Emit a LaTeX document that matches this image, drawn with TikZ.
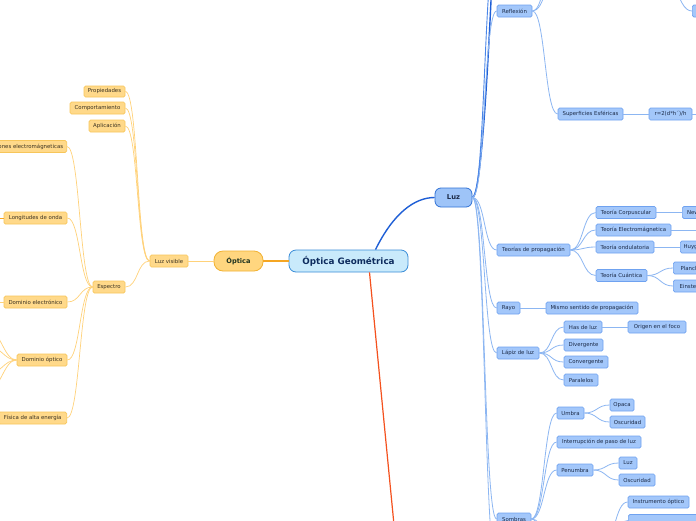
\documentclass[tikz,border=0pt]{standalone}
\usepackage{fontspec}
\setmainfont{DejaVu Sans}
\usetikzlibrary{calc}
\definecolor{ybfill}{HTML}{FFD98A}
\definecolor{ybdraw}{HTML}{F7C65A}
\definecolor{yline}{HTML}{FFD27A}
\definecolor{ytext}{HTML}{3B3222}
\definecolor{bbfill}{HTML}{A3C7FA}
\definecolor{bbdraw}{HTML}{6FA2F0}
\definecolor{bline}{HTML}{8CB6F2}
\definecolor{btext}{HTML}{1C2B48}
\definecolor{cfill}{HTML}{C9EAFB}
\definecolor{cdraw}{HTML}{3A8DD8}
\definecolor{ctext}{HTML}{0E2C5E}
\definecolor{ofill}{HTML}{FFD67F}
\definecolor{odraw}{HTML}{F2B232}
\definecolor{otext}{HTML}{1E3320}
\definecolor{oline}{HTML}{F5A623}
\definecolor{lfill}{HTML}{9EC4F8}
\definecolor{ldraw}{HTML}{3172D6}
\definecolor{mainblue}{HTML}{1F5FD6}
\definecolor{midblue}{HTML}{4A86E8}
\definecolor{redline}{HTML}{F4511E}
\tikzset{
  ynode/.style={draw=ybdraw, fill=ybfill, rounded corners=1.5pt, line width=0.7pt,
    minimum height=12pt, inner sep=0pt, font=\fontsize{5.4}{6}\selectfont, text=ytext},
  bnode/.style={draw=bbdraw, fill=bbfill, rounded corners=1.5pt, line width=0.7pt,
    minimum height=12pt, inner sep=0pt, font=\fontsize{5.4}{6}\selectfont, text=btext},
  yl/.style={draw=yline, line width=0.7pt},
  bl/.style={draw=bline, line width=0.8pt},
  ll/.style={draw=midblue, line width=0.9pt},
}
\newcommand\mmlink[3][bl]{\draw[#1] (#2) .. controls +(13,0) and +(-13,0) .. (#3);}
\newcommand\mmlinkl[3][yl]{\draw[#1] (#2) .. controls +(-13,0) and +(13,0) .. (#3);}
\begin{document}
\begin{tikzpicture}[x=1pt,y=-1pt]
\fill[white] (0,0) rectangle (696,520);
\useasboundingbox (0,0) rectangle (696,520);

% ---- main nodes
\node[draw=cdraw, fill=cfill, line width=0.8pt, rounded corners=7pt, minimum width=119pt, minimum height=22pt,
  inner sep=0pt, font=\bfseries\fontsize{8.8}{10}\selectfont, text=ctext] (central) at (348.5,261) {Óptica Geométrica};
\node[draw=odraw, fill=ofill, line width=0.8pt, rounded corners=9pt, minimum width=49pt, minimum height=20pt,
  inner sep=0pt, font=\bfseries\fontsize{6.6}{8}\selectfont, text=otext] (optica) at (238.5,261) {Óptica};
\node[draw=ldraw, fill=lfill, line width=0.8pt, rounded corners=6pt, minimum width=37pt, minimum height=19pt,
  inner sep=0pt, font=\bfseries\fontsize{6.8}{8}\selectfont, text=btext] (luz) at (453.5,197.5) {Luz};

% ---- left (yellow) nodes
\node[ynode, minimum width=38pt] (lvis) at (169,261) {Luz visible};
\node[ynode, minimum width=41pt, minimum height=11pt] (prop) at (104.5,91.5) {Propiedades};
\node[ynode, minimum width=55pt] (comp) at (97.5,108) {Comportamiento};
\node[ynode, minimum width=36pt] (apl) at (107,126) {Aplicación};
\node[ynode, minimum width=32pt] (esp) at (109,287) {Espectro};
\node[ynode, anchor=east, minimum width=60pt, inner xsep=3.5pt] (rad) at (67,146.5) {Radiaciones electromágneticas};
\node[ynode, minimum width=63pt] (long) at (35.5,218) {Longitudes de onda};
\node[ynode, minimum width=63pt] (delec) at (35.5,302) {Dominio electrónico};
\node[ynode, minimum width=50pt] (dopt) at (42,360) {Dominio óptico};
\node[ynode, anchor=east, minimum width=68pt] (fis) at (67,418) {Física de alta energía};

% ---- right (blue) nodes
\node[bnode, minimum width=35pt] (refl) at (514.5,11) {Reflexión};
\node[bnode, minimum width=65pt] (sup) at (590.5,114) {Superficies Esféricas};
\node[bnode, minimum width=43pt] (rform) at (670.5,114) {r=2(d*h´)/h};
\node[bnode, anchor=west, minimum width=20pt] (tr) at (692,11) {};
\node[bnode, minimum width=73pt] (tprop) at (533.5,250) {Teorías de propagación};
\node[bnode, minimum width=60pt] (tcorp) at (626,212.5) {Teoría Corpuscular};
\node[bnode, minimum width=75pt] (telec) at (633.5,230) {Teoría Electromágnetica};
\node[bnode, minimum width=58pt] (tond) at (625,247) {Teoría ondulatoria};
\node[bnode, minimum width=51pt] (tcuan) at (621.5,275.5) {Teoría Cuántica};
\node[bnode, anchor=west, minimum width=30pt] (newton) at (682,212.5) {Newton};
\node[bnode, anchor=west, minimum width=30pt] (huy) at (680,247) {Huygens};
\node[bnode, anchor=west, minimum width=32pt] (planck) at (673,268) {Planck};
\node[bnode, anchor=west, minimum width=34pt] (einst) at (673,286) {Einstein};
\node[bnode, minimum width=23pt] (rayo) at (508.5,308) {Rayo};
\node[bnode, minimum width=92pt] (mismo) at (592,308) {Mismo sentido de propagación};
\node[bnode, minimum width=42pt] (lapiz) at (518,353) {Lápiz de luz};
\node[bnode, minimum width=38pt] (haz) at (583,327) {Has de luz};
\node[bnode, minimum width=58pt] (origen) at (657,327) {Origen en el foco};
\node[bnode, minimum width=39pt] (div) at (583.5,345) {Divergente};
\node[bnode, minimum width=44pt] (conv) at (586,362) {Convergente};
\node[bnode, minimum width=34pt] (par) at (581,380) {Paralelos};
\node[bnode, minimum width=34pt] (sombras) at (514,519) {Sombras};
\node[bnode, minimum width=27pt] (umbra) at (570.5,413) {Umbra};
\node[bnode, minimum width=24pt] (opaca) at (622,405) {Opaca};
\node[bnode, minimum width=35pt] (osca) at (627.5,422) {Oscuridad};
\node[bnode, minimum width=84pt] (interr) at (599,442) {Interrupción de paso de luz};
\node[bnode, minimum width=36pt] (pen) at (575,470) {Penumbra};
\node[bnode, minimum width=18pt] (luzb) at (628,463) {Luz};
\node[bnode, minimum width=36pt] (oscb) at (637,480) {Oscuridad};
\node[bnode, minimum width=61pt] (instr) at (658.5,502) {Instrumento óptico};
\node[bnode, anchor=west, minimum width=75pt] (below) at (628,520.5) {};

% ---- off-frame coordinates
\coordinate (luzup1) at (497,-60);
\coordinate (luzup2) at (497,-140);
\coordinate (luzdown) at (497,570);
\coordinate (reflup1) at (558,-25);
\coordinate (reflup2) at (558,-50);
\coordinate (trpar) at (672,-20);
\coordinate (rformch) at (712,114);
\coordinate (telecch) at (712,230);
\coordinate (longch) at (-12,218);
\coordinate (delecch) at (-12,302);
\coordinate (dch1) at (-12,330);
\coordinate (dch2) at (-12,346);
\coordinate (dch3) at (-12,374);
\coordinate (dch4) at (-12,390);
\coordinate (somch1) at (557,545);
\coordinate (somch2) at (557,575);
\coordinate (instrpar) at (602,545);
\coordinate (redend) at (394.5,530);

% ---- main connectors
\draw[oline, line width=1.2pt] (central.west) -- (optica.east);
\draw[mainblue, line width=1.4pt] ($(central.north)+(27,0)$) .. controls (393,214) and (414,197.5) .. (luz.west);
\draw[redline, line width=1.2pt] ($(central.south)+(21,0)$) -- (redend);

% ---- left connectors
\draw[yl] (optica.west) -- (lvis.east);
\mmlinkl{lvis.west}{prop.east}
\mmlinkl{lvis.west}{comp.east}
\mmlinkl{lvis.west}{apl.east}
\mmlinkl{lvis.west}{esp.east}
\mmlinkl{esp.west}{rad.east}
\mmlinkl{esp.west}{long.east}
\mmlinkl{esp.west}{delec.east}
\mmlinkl{esp.west}{dopt.east}
\mmlinkl{esp.west}{fis.east}
\draw[draw=oline, line width=0.9pt] (long.west) -- (longch);
\draw[draw=yline, line width=0.9pt] (delec.west) -- (delecch);
\mmlinkl{dopt.west}{dch1}
\mmlinkl{dopt.west}{dch2}
\mmlinkl{dopt.west}{dch3}
\mmlinkl{dopt.west}{dch4}

% ---- Luz connectors
\draw[mainblue, line width=1.4pt] (luz.east) .. controls +(13,0) and +(-2,40) .. (luzup2);
\mmlink[ll]{luz.east}{luzup1}
\mmlink{luz.east}{refl.west}
\mmlink{luz.east}{tprop.west}
\mmlink{luz.east}{rayo.west}
\mmlink{luz.east}{lapiz.west}
\mmlink{luz.east}{sombras.west}
\mmlink{luz.east}{luzdown}

% ---- Reflexion
\mmlink{refl.east}{reflup1}
\mmlink{refl.east}{reflup2}
\mmlink{refl.east}{sup.west}
\draw[bl] (sup.east) -- (rform.west);
\draw[bl] (rform.east) -- (rformch);
\draw[bl] (trpar) .. controls +(8,20) and +(-8,0) .. (tr.west);

% ---- Teorias
\mmlink{tprop.east}{tcorp.west}
\mmlink{tprop.east}{telec.west}
\mmlink{tprop.east}{tond.west}
\mmlink{tprop.east}{tcuan.west}
\draw[bl] (tcorp.east) -- (newton.west);
\draw[bl] (telec.east) -- (telecch);
\draw[bl] (tond.east) -- (huy.west);
\mmlink{tcuan.east}{planck.west}
\mmlink{tcuan.east}{einst.west}

% ---- Rayo, Lapiz
\draw[bl] (rayo.east) -- (mismo.west);
\mmlink{lapiz.east}{haz.west}
\mmlink{lapiz.east}{div.west}
\mmlink{lapiz.east}{conv.west}
\mmlink{lapiz.east}{par.west}
\draw[bl] (haz.east) -- (origen.west);

% ---- Sombras
\mmlink{sombras.east}{umbra.west}
\mmlink{sombras.east}{interr.west}
\mmlink{sombras.east}{pen.west}
\mmlink{sombras.east}{somch1}
\mmlink{sombras.east}{somch2}
\mmlink{umbra.east}{opaca.west}
\mmlink{umbra.east}{osca.west}
\mmlink{pen.east}{luzb.west}
\mmlink{pen.east}{oscb.west}
\mmlink{instrpar}{instr.west}
\mmlink{instrpar}{below.west}
\end{tikzpicture}
\end{document}
